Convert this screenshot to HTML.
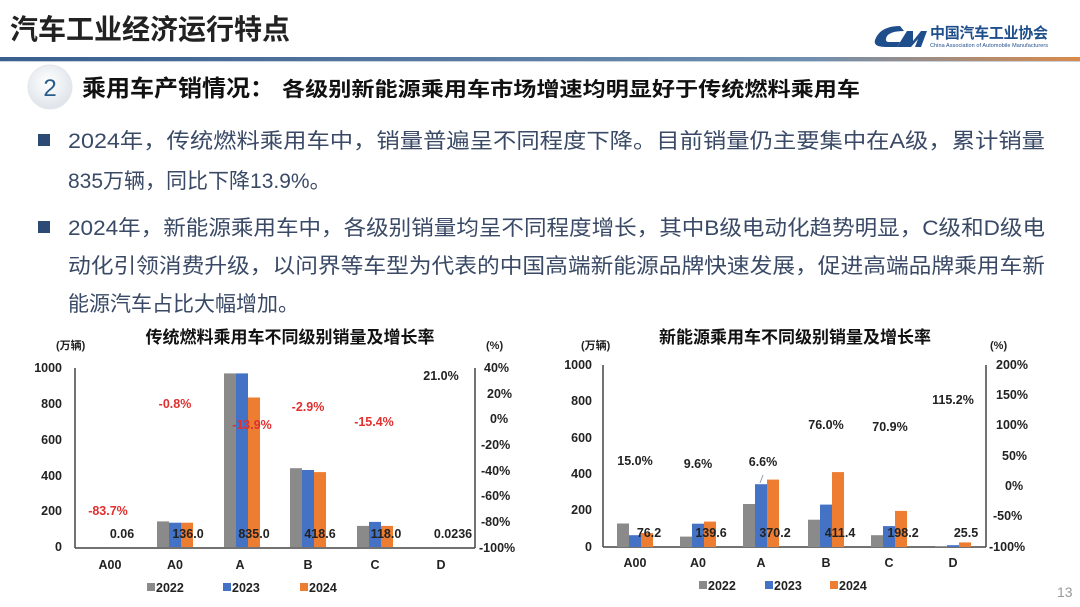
<!DOCTYPE html>
<html><head><meta charset="utf-8"><style>
html,body{margin:0;padding:0;background:#fff;}
svg{display:block;font-family:"Liberation Sans","Noto Sans CJK SC",sans-serif;}
</style></head><body>
<svg width="1080" height="607" viewBox="0 0 1080 607" xmlns="http://www.w3.org/2000/svg">
<defs>
<linearGradient id="hl" x1="0" x2="1"><stop offset="0" stop-color="#3a5f8f"/><stop offset="0.75" stop-color="#6f8fb0"/><stop offset="1" stop-color="#d98a4a"/></linearGradient>
<radialGradient id="cg" cx="0.45" cy="0.4" r="0.6"><stop offset="0" stop-color="#ffffff"/><stop offset="1" stop-color="#dfe4ea"/></radialGradient>
</defs>
<rect width="1080" height="607" fill="#fff"/>
<text x="10" y="39" font-size="28" font-weight="bold" fill="#222">汽车工业经济运行特点</text>
<path d="M900 26 Q880 26 875 40 Q873 47 886 47 L897 47 L900 42 L889 42 Q884 42 887 36 Q891 31 904 31 Z" fill="#1f4e8c"/>
<path d="M897 47 L907 31 L913 31 L913 41 L921 31 L927 31 L921 47 L915 47 L918 39 L911 47 Z" fill="#1f4e8c"/>
<text x="930" y="38" font-size="15" font-weight="bold" fill="#1f4e8c" textLength="118">中国汽车工业协会</text>
<text x="930" y="47" font-size="5.5" fill="#1f4e8c" textLength="118">China Association of Automobile Manufacturers</text>
<rect x="0" y="57" width="1080" height="4" fill="url(#hl)"/>
<rect x="0" y="61" width="1080" height="1" fill="#c9d2dc"/>
<circle cx="50" cy="87" r="22" fill="url(#cg)" stroke="#e3e7ec"/>
<text x="50" y="96" font-size="24" fill="#2b5b8a" text-anchor="middle">2</text>
<text x="82" y="96" font-size="23" font-weight="bold" fill="#111" textLength="192" lengthAdjust="spacingAndGlyphs">乘用车产销情况：</text>
<text x="282" y="96" font-size="20" font-weight="bold" fill="#111" textLength="578" lengthAdjust="spacingAndGlyphs">各级别新能源乘用车市场增速均明显好于传统燃料乘用车</text>
<g font-size="21" fill="#3a4a66">
<rect x="38" y="134" width="12" height="12" fill="#2c4a73"/>
<text x="68" y="148" textLength="977" lengthAdjust="spacingAndGlyphs">2024年，传统燃料乘用车中，销量普遍呈不同程度下降。目前销量仍主要集中在A级，累计销量</text>
<text x="68" y="188">835万辆，同比下降13.9%。</text>
<rect x="38" y="221" width="12" height="12" fill="#2c4a73"/>
<text x="68" y="235" textLength="977" lengthAdjust="spacingAndGlyphs">2024年，新能源乘用车中，各级别销量均呈不同程度增长，其中B级电动化趋势明显，C级和D级电</text>
<text x="68" y="273" textLength="977" lengthAdjust="spacingAndGlyphs">动化引领消费升级，以问界等车型为代表的中国高端新能源品牌快速发展，促进高端品牌乘用车新</text>
<text x="68" y="311">能源汽车占比大幅增加。</text>
</g>
<g font-weight="bold">
<text x="290" y="343" font-size="17" text-anchor="middle" fill="#111">传统燃料乘用车不同级别销量及增长率</text>
<text x="56" y="349" font-size="11" fill="#222">(万辆)</text>
<text x="486" y="349" font-size="11" fill="#222">(%)</text>
<g font-size="12.5" fill="#222" text-anchor="end">
<text x="62" y="372">1000</text><text x="62" y="408">800</text><text x="62" y="444">600</text><text x="62" y="480">400</text><text x="62" y="515">200</text><text x="62" y="551">0</text>
</g>
<g font-size="12.5" fill="#222">
<text x="484" y="372">40%</text><text x="487" y="398">20%</text><text x="490" y="423">0%</text><text x="481" y="449">-20%</text><text x="481" y="475">-40%</text><text x="481" y="500">-60%</text><text x="481" y="526">-80%</text><text x="479" y="552">-100%</text>
</g>
<line x1="75" y1="368" x2="75" y2="548" stroke="#444" stroke-width="1.5"/>
<line x1="475" y1="368" x2="475" y2="548" stroke="#444" stroke-width="1.5"/>
<line x1="75" y1="548" x2="475" y2="548" stroke="#444" stroke-width="1.5"/>
<rect x="157" y="521.4" width="12" height="25.6" fill="#8a8a8a"/><rect x="169" y="522.7" width="12" height="24.3" fill="#4472c4"/><rect x="181" y="522.7" width="12" height="24.3" fill="#ed7d31"/>
<rect x="224" y="373.4" width="12" height="173.6" fill="#8a8a8a"/><rect x="236" y="373.4" width="12" height="173.6" fill="#4472c4"/><rect x="248" y="397.5" width="12" height="149.5" fill="#ed7d31"/>
<rect x="290" y="468.2" width="12" height="78.8" fill="#8a8a8a"/><rect x="302" y="470" width="12" height="77" fill="#4472c4"/><rect x="314" y="472.1" width="12" height="74.9" fill="#ed7d31"/>
<rect x="357" y="525.9" width="12" height="21.1" fill="#8a8a8a"/><rect x="369" y="521.9" width="12" height="25.1" fill="#4472c4"/><rect x="381" y="525.9" width="12" height="21.1" fill="#ed7d31"/>
<g font-size="12.5" fill="#222" text-anchor="middle">
<text x="122" y="538">0.06</text><text x="188" y="538">136.0</text><text x="254" y="538">835.0</text><text x="320" y="538">418.6</text><text x="386" y="538">118.0</text><text x="453" y="538">0.0236</text>
<text x="441" y="380">21.0%</text>
</g>
<g font-size="12.5" fill="#e03030" text-anchor="middle">
<text x="108" y="515">-83.7%</text><text x="175" y="408">-0.8%</text><text x="252" y="429">-13.9%</text><text x="308" y="411">-2.9%</text><text x="374" y="426">-15.4%</text>
</g>
<g font-size="12.5" fill="#222" text-anchor="middle">
<text x="110" y="569">A00</text><text x="175" y="569">A0</text><text x="240" y="569">A</text><text x="308" y="569">B</text><text x="375" y="569">C</text><text x="441" y="569">D</text>
</g>
<g font-size="12.5" fill="#222">
<rect x="147" y="583" width="8" height="8" fill="#8a8a8a"/><text x="156" y="592">2022</text>
<rect x="223" y="583" width="8" height="8" fill="#4472c4"/><text x="232" y="592">2023</text>
<rect x="300" y="583" width="8" height="8" fill="#ed7d31"/><text x="309" y="592">2024</text>
</g>
</g>
<g font-weight="bold">
<text x="795" y="343" font-size="17" text-anchor="middle" fill="#111">新能源乘用车不同级别销量及增长率</text>
<text x="581" y="349" font-size="11" fill="#222">(万辆)</text>
<text x="990" y="349" font-size="11" fill="#222">(%)</text>
<g font-size="12.5" fill="#222" text-anchor="end">
<text x="592" y="369">1000</text><text x="592" y="405">800</text><text x="592" y="442">600</text><text x="592" y="478">400</text><text x="592" y="514">200</text><text x="592" y="551">0</text>
</g>
<g font-size="12.5" fill="#222">
<text x="996" y="369">200%</text><text x="996" y="399">150%</text><text x="996" y="429">100%</text><text x="1002" y="460">50%</text><text x="1005" y="490">0%</text><text x="993" y="520">-50%</text><text x="989" y="551">-100%</text>
</g>
<line x1="603" y1="365" x2="603" y2="547" stroke="#444" stroke-width="1.5"/>
<line x1="986" y1="365" x2="986" y2="547" stroke="#444" stroke-width="1.5"/>
<line x1="603" y1="547" x2="986" y2="547" stroke="#444" stroke-width="1.5"/>
<rect x="617" y="523.5" width="12" height="23.5" fill="#8a8a8a"/><rect x="629" y="535.2" width="12" height="11.8" fill="#4472c4"/><rect x="641" y="533.1" width="12" height="13.9" fill="#ed7d31"/>
<rect x="680" y="536.6" width="12" height="10.4" fill="#8a8a8a"/><rect x="692" y="523.7" width="12" height="23.3" fill="#4472c4"/><rect x="704" y="521.6" width="12" height="25.4" fill="#ed7d31"/>
<rect x="743" y="504" width="12" height="43" fill="#8a8a8a"/><rect x="755" y="484.2" width="12" height="62.8" fill="#4472c4"/><rect x="767" y="479.6" width="12" height="67.4" fill="#ed7d31"/>
<rect x="808" y="519.7" width="12" height="27.3" fill="#8a8a8a"/><rect x="820" y="504.6" width="12" height="42.4" fill="#4472c4"/><rect x="832" y="472.1" width="12" height="74.9" fill="#ed7d31"/>
<rect x="871" y="535.2" width="12" height="11.8" fill="#8a8a8a"/><rect x="883" y="526.1" width="12" height="20.9" fill="#4472c4"/><rect x="895" y="510.9" width="12" height="36.1" fill="#ed7d31"/>
<rect x="935" y="546.5" width="12" height="0.5" fill="#8a8a8a"/><rect x="947" y="545.2" width="12" height="1.8" fill="#4472c4"/><rect x="959" y="542.4" width="12" height="4.6" fill="#ed7d31"/>
<line x1="763" y1="475" x2="760" y2="483" stroke="#8a9bb0" stroke-width="1"/>
<g font-size="12.5" fill="#222" text-anchor="middle">
<text x="649" y="537">76.2</text><text x="711" y="537">139.6</text><text x="775" y="537">370.2</text><text x="840" y="537">411.4</text><text x="903" y="537">198.2</text><text x="966" y="537">25.5</text>
<text x="635" y="465">15.0%</text><text x="698" y="468">9.6%</text><text x="763" y="466">6.6%</text><text x="826" y="429">76.0%</text><text x="890" y="431">70.9%</text><text x="953" y="404">115.2%</text>
</g>
<g font-size="12.5" fill="#222" text-anchor="middle">
<text x="635" y="567">A00</text><text x="698" y="567">A0</text><text x="761" y="567">A</text><text x="826" y="567">B</text><text x="889" y="567">C</text><text x="953" y="567">D</text>
</g>
<g font-size="12.5" fill="#222">
<rect x="699" y="581" width="8" height="8" fill="#8a8a8a"/><text x="708" y="590">2022</text>
<rect x="765" y="581" width="8" height="8" fill="#4472c4"/><text x="774" y="590">2023</text>
<rect x="830" y="581" width="8" height="8" fill="#ed7d31"/><text x="839" y="590">2024</text>
</g>
</g>
<text x="1057" y="597" font-size="14" fill="#999">13</text>
</svg>
</body></html>
